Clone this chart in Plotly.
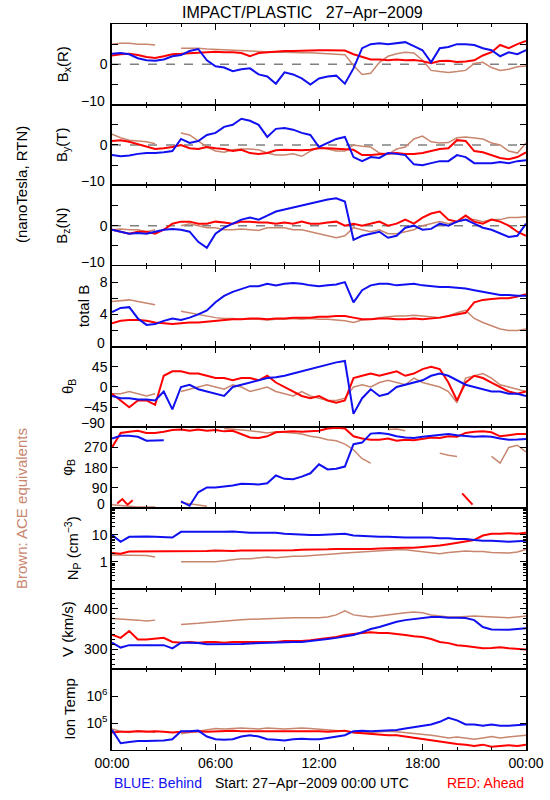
import plotly.graph_objects as go
from plotly.subplots import make_subplots
from datetime import datetime, timedelta

# ---------------- data (30-min grid) ----------------
HOURS = [0.0, 0.5, 1.0, 1.5, 2.0, 2.5, 3.0, 3.5, 4.0, 4.5, 5.0, 5.5, 6.0, 6.5, 7.0, 7.5,
         8.0, 8.5, 9.0, 9.5, 10.0, 10.5, 11.0, 11.5, 12.0, 12.5, 13.0, 13.5, 14.0, 14.5,
         15.0, 15.5, 16.0, 16.5, 17.0, 17.5, 18.0, 18.5, 19.0, 19.5, 20.0, 20.5, 21.0,
         21.5, 22.0, 22.5, 23.0, 23.5, 24.0]
MAJOR_TICK_HOURS = [0, 6, 12, 18, 24]
MAJOR_TICK_TEXT = ["00:00", "06:00", "12:00", "18:00", "00:00"]
MINOR_TICK_HOURS = [2, 4, 8, 10, 14, 16, 20, 22]

BX_BEHIND = [2.6, 2.8, 2.5, 1.5, 1.0, 0.9, 1.2, 2.0, 2.3, 3.3, 3.8, 1.0, -0.5, -0.8, -1.7, -1.2,
             -1.0, -2.5, -3.0, -4.8, -2.0, -2.5, -3.5, -5.0, -3.5, -3.0, -2.8, -4.8, -1.0, 4.0,
             5.0, 5.2, 5.0, 5.3, 5.5, 4.5, 3.5, 0.5, 4.0, 4.3, 5.0, 5.0, 4.8, 4.0, 3.5, 2.0,
             3.0, 2.5, 3.5]
BX_AHEAD = [2.2, 2.5, 2.6, 2.3, 1.8, 1.6, 2.0, 2.5, 2.6, 2.8, 2.9, 3.0, 3.1, 3.0, 3.0, 2.8,
            2.0, 2.8, 3.0, 3.2, 3.3, 3.3, 3.4, 3.4, 3.5, 3.5, 3.4, 3.4, 2.5, 1.8, 1.2, 1.2,
            1.0, 1.2, 1.0, 1.1, 0.8, 0.3, 0.8, 0.9, 0.6, 0.7, 1.0, 2.2, 3.0, 4.8, 4.0, 5.0, 5.8]
BX_ACE = [5.0, 5.2, 5.2, 5.0, 5.0, 4.8, None, None, 4.0, 4.0, 4.0, 3.8, 3.7, 3.6, 3.5, 3.4,
          3.2, 3.1, 3.0, 3.0, 3.0, 2.9, 2.9, 2.9, 2.8, 2.7, 2.6, 2.4, -0.3, -2.5, -2.2, 0.5,
          2.0, 2.6, 3.0, 2.8, 1.0, -1.5, -1.8, -2.0, -1.8, -1.5, 0.2, 0.5, -0.8, -1.5, -1.2,
          -0.6, -0.4]

BY_BEHIND = [-2.5, -2.8, -2.6, -2.2, -2.0, -2.0, -1.8, -1.5, 1.5, 0.5, 1.0, 2.5, 3.0, 4.5, 5.0,
             6.5, 6.0, 5.0, 2.0, 4.0, 4.2, 3.8, 3.0, 2.5, -0.5, 0.5, 1.5, 2.0, -3.0, -4.0, -3.0,
             -3.2, -2.0, -2.2, -2.5, -4.8, -5.0, -4.5, -4.0, -4.0, -2.5, -3.0, -4.5, -4.5, -4.5,
             -4.2, -4.5, -4.0, -3.8]
BY_AHEAD = [1.0, 1.2, 0.8, 0.2, -0.5, -1.0, -0.8, -0.5, 0.0, -0.8, -1.0, -0.5, -0.8, -1.0, -1.5,
            -1.2, -2.0, -2.2, -2.0, -1.3, -1.2, -1.3, -1.3, -1.2, -0.8, -0.8, -0.9, -1.0, -1.2,
            -2.5, -2.5, -2.3, -2.2, -2.0, -2.2, -2.2, -2.0, -1.5, -1.0, -0.8, 1.2, 1.0, -1.5,
            -1.8, -2.5, -3.2, -3.5, -3.0, -1.8]
BY_ACE = [2.7, 1.8, 1.2, 1.0, 0.8, 0.3, None, None, 3.0, 2.5, 1.0, -0.5, -1.5, -1.8, -1.2, -1.0,
          -1.0, -1.2, -2.0, -2.5, -2.5, -2.2, -2.8, -1.5, -0.5, -1.0, -1.5, -1.5, 0.0, -0.3,
          -0.5, -2.0, -2.3, -1.0, -0.5, 1.5, 2.2, 0.8, 0.5, 0.6, 1.8, 2.0, 1.8, 1.5, 0.5, 0.0,
          -1.5, -2.0, 0.5]

BZ_BEHIND = [-1.0, -1.5, -2.0, -1.8, -2.0, -1.5, -1.0, -0.8, -1.0, -1.5, -4.0, -5.5, -2.0, -0.5,
             0.5, 1.5, 2.0, 1.5, 2.5, 3.5, 4.0, 4.5, 5.0, 5.5, 6.0, 6.5, 6.8, 6.0, -3.5, -2.5,
             -2.0, -1.5, -3.0, -2.5, -0.5, 0.0, -1.0, -0.8, 0.5, 0.0, 1.0, 1.5, 0.5, -0.5,
             -1.0, -2.0, -2.8, -2.5, 0.5]
BZ_AHEAD = [-1.0, -1.5, -2.0, -1.5, -1.5, -2.0, -1.0, 0.5, 1.0, 1.0, 0.5, 0.5, 1.0, 0.8, 0.5,
            1.0, 1.0, 0.8, 0.8, 0.5, 0.8, 0.5, 1.0, 0.5, 0.5, 0.8, 1.0, 0.0, 0.5, 0.0, 0.5,
            1.0, 0.0, 0.5, 1.5, 0.5, 2.0, 3.0, 3.5, 1.5, 1.0, 2.5, 1.0, 0.5, 1.5, 1.0, 0.0,
            -1.5, -2.5]
BZ_ACE = [-1.0, -0.8, -1.0, -1.0, -1.5, -1.0, None, None, 0.0, 0.5, 0.0, -0.5, -0.5, -1.0, -1.0,
          -0.8, -1.0, -1.2, -0.5, -0.5, -0.5, -1.0, -1.0, -1.5, -2.0, -2.5, -3.0, -2.5, -0.5,
          -1.0, -1.5, -1.0, -2.0, -2.0, -1.5, -1.0, 0.0, 0.5, 1.0, 0.5, 1.0, 1.5, 1.5, 1.0,
          1.5, 1.5, 2.0, 2.0, 2.2]

BT_BEHIND = [4.3, 4.8, 4.9, 3.5, 2.7, 2.8, 3.2, 3.5, 3.3, 3.6, 4.0, 4.5, 5.5, 6.3, 6.8, 7.2,
             7.5, 7.5, 7.8, 7.6, 7.8, 7.9, 7.8, 7.6, 7.5, 7.6, 7.7, 8.0, 5.5, 7.0, 7.6, 7.8,
             7.8, 7.6, 7.7, 7.8, 7.6, 7.5, 7.4, 7.4, 7.3, 7.2, 7.0, 6.8, 6.6, 6.4, 6.4, 6.3, 6.3]
BT_AHEAD = [2.9, 3.2, 3.3, 3.3, 3.2, 3.0, 2.9, 2.8, 2.9, 3.0, 3.0, 3.1, 3.2, 3.3, 3.4, 3.4,
            3.5, 3.5, 3.4, 3.5, 3.5, 3.6, 3.6, 3.6, 3.7, 3.7, 3.8, 3.8, 3.6, 3.4, 3.4, 3.5,
            3.5, 3.4, 3.4, 3.5, 3.4, 3.5, 3.6, 3.8, 4.0, 4.2, 5.5, 5.8, 5.9, 6.0, 6.0, 6.2, 6.5]
BT_ACE = [5.6, 5.7, 5.8, 5.6, 5.4, 5.2, None, None, 4.4, 4.2, 4.0, 3.8, 3.6, 3.5, 3.5, 3.4,
          3.4, 3.4, 3.3, 3.4, 3.4, 3.5, 3.4, 3.5, 3.4, 3.4, 3.3, 3.2, 3.0, 3.3, 3.4, 3.6,
          3.7, 3.8, 3.8, 3.9, 3.8, 3.7, 3.6, 3.8, 4.2, 4.5, 3.5, 3.0, 2.6, 2.2, 2.0, 2.0, 2.2]

TH_BEHIND = [-20, -25, -25, -28, -28, -30, -10, -50, 0, 5, -5, -10, -15, -20, 0, 5, 10, 15,
             20, 22, 25, 30, 35, 40, 45, 50, 55, 58, -60, -25, -5, -20, -15, 0, 5, 10, 15, 25,
             30, 25, 15, 5, 0, -5, -10, -10, -15, -15, -20]
TH_AHEAD = [-15, -30, -45, -30, -30, -40, 25, 35, 35, 30, 30, 25, 20, 20, 15, 20, 20, 15, 25,
            10, 0, -10, -20, -25, -20, -30, -35, -30, 20, 25, 30, 25, 30, 35, 25, 30, 40, 45,
            40, 10, -30, 10, 25, 20, 10, 0, -10, -15, -10]
TH_ACE = [-15, -15, -10, -15, -20, -15, None, None, -10, -5, 0, 5, 0, -5, 5, 0, -10, -5, 0,
          -10, -15, -20, -10, -20, -25, -30, -30, -25, 0, 5, 0, 10, 15, 10, 5, 20, 10, 5, 0,
          -10, -35, 20, 25, 30, 20, 5, 0, -5, -10]

PH_BEHIND = [310, 322, 322, 318, 300, 300, 302, None, 30, 10, 70, 92, 92, 95, 100, 108, 105,
             105, 110, 145, 130, 128, 140, 155, 195, 172, 175, 185, 285, 292, 332, 335, 330,
             320, 315, 312, 318, 322, 328, 330, 325, 320, 318, 320, 318, 310, 305, 306, 308]
PH_AHEAD = [270, 335, 340, 345, 335, 335, 340, 348, 350, 345, 350, 345, 348, 342, 345, 330,
            315, 312, 320, 338, 340, 342, 340, 342, 345, 355, 358, 355, 320, 310, 305, 305,
            310, 300, 305, 302, 310, 315, 312, 320, 318, 335, 340, 342, 338, 320, 325, 330, 330]
PH_ACE = [15, 10, 8, 5, 5, 5, None, None, 25, 20, 15, 8, None, 355, 352, 350, 345, 340, 335,
          340, 338, 335, 330, 320, 315, 305, 300, 285, 260, 220, 200, None, 350, 352, 345,
          None, 15, None, 245, 235, 230, None, 55, None, 230, 200, 270, 280, 250]
PH_AHEAD_WRAP_HOURS = [0.3, 0.6, 0.9, 1.2, None, 20.3, 20.6, 20.9]
PH_AHEAD_WRAP = [20, 40, 15, 35, None, 65, 40, 15]

NP_BEHIND = [10, 5.5, 8.5, 8.7, 8.8, 8.5, 8.5, 8.0, 13, 13, 13, 13, 12.5, 13, 13.5, 12.5, 12,
             12, 12, 12, 11, 10.5, 10, 10, 10, 10.5, 11, 11, 9.5, 9, 9, 8.5, 8.5, 8, 8, 8, 8,
             8, 7.5, 7.5, 7, 7, 6.5, 6, 6, 5.8, 5.5, 5.8, 6]
NP_AHEAD = [2.1, 2.0, 2.4, 2.4, 2.4, 2.5, 2.4, 2.4, 2.4, 2.5, 2.5, 2.5, 2.6, 2.5, 2.5, 2.6,
            2.6, 2.6, 2.6, 2.7, 2.7, 2.7, 2.8, 2.8, 2.8, 2.9, 3.0, 3.0, 2.9, 3.0, 3.0, 3.1,
            3.2, 3.2, 3.3, 3.3, 3.5, 3.8, 4.0, 4.5, 5.0, 5.5, 6.5, 9.5, 11, 11, 11.5, 11, 12]
NP_ACE = [1.8, 1.8, 1.7, 1.8, 1.7, 1.5, None, None, 1.0, 1.0, 1.0, 1.0, 1.0, 1.1, 1.2, 1.3,
          1.3, 1.4, 1.5, 1.4, 1.5, 1.6, 1.6, 1.7, 1.8, 2.0, 2.0, 2.1, 2.2, 2.4, 2.5, 2.5,
          2.6, 2.8, 2.8, 2.6, 2.4, 2.2, 2.0, 2.2, 2.4, 2.5, 2.4, 2.4, 2.2, 2.2, 2.1, 2.3, 2.9]

V_BEHIND = [316, 304, 310, 310, 310, 310, 310, 302, 316, 316, 315, 312, 312, 312, 313, 313,
            314, 315, 315, 316, 318, 318, 318, 320, 322, 325, 328, 332, 335, 342, 350, 355,
            362, 368, 372, 375, 378, 380, 380, 378, 378, 377, 372, 355, 349, 348, 348, 350, 352]
V_AHEAD = [336, 328, 345, 324, 324, 326, 328, 318, 316, 318, 316, 318, 318, 316, 318, 318,
           318, 318, 318, 318, 320, 320, 320, 322, 325, 328, 330, 335, 338, 340, 342, 340,
           340, 338, 335, 332, 330, 325, 318, 315, 310, 308, 305, 302, 303, 305, 302, 300, 299]
V_ACE = [376, 375, 374, 372, 370, 372, None, None, 361, 362, 364, 366, 368, 370, 372, 373,
         374, 375, 376, 376, 377, 378, 378, 378, 378, 380, 385, 395, 385, 382, 380, 382,
         385, 388, 390, 392, 390, 385, 382, 380, 380, 381, 382, 381, 380, 379, 378, 380, 382]

T_BEHIND = [56000, 17800, 20000, 21400, 21400, 21400, 22400, 25100, 50100, 50100, 52500,
            31600, 25100, 24000, 25100, 31600, 35500, 31600, 25100, 24000, 22400, 25100,
            26300, 25100, 25100, 28200, 31600, 35500, 50100, 52500, 50100, 52500, 56000,
            56000, 63100, 70800, 79400, 89100, 112000, 158000, 126000, 89100, 89100, 79400,
            89100, 79400, 79400, 83200, 89100]
T_AHEAD = [44700, 47900, 47900, 50100, 47900, 50100, 47900, 44700, 47900, 50100, 50100,
           47900, 50100, 50100, 52500, 50100, 50100, 52500, 50100, 52500, 50100, 52500,
           52500, 50100, 50100, 47900, 50100, 52500, 44700, 41700, 39800, 38000, 35500,
           35500, 31600, 28200, 25100, 22400, 20000, 17800, 16600, 15800, 14100, 15800,
           13200, 14100, 15100, 14100, 15800]
T_ACE = [60300, 50100, 44700, 52500, 50100, 44700, None, None, 39800, 44700, 52500, 56000,
         63100, 60300, 63100, 66100, 63100, 60300, 66100, 63100, 60300, 63100, 66100, 63100,
         60300, 56000, 52500, 50100, 44700, 41700, 44700, 47900, 50100, 47900, 44700, 39800,
         38000, 35500, 31600, 28200, 30200, 28200, 25100, 28200, 31600, 28200, 30200, 31600,
         35500]

# ---------------- figure ----------------
BASE = datetime(2009, 4, 27)


def to_time(hs):
    return [BASE + timedelta(hours=h) if h is not None else None for h in hs]


TIME = to_time(HOURS)
BLUE = "#1010F0"
RED = "#FF0000"
BROWN = "#C8866E"
FONT = "Liberation Sans, Arial, sans-serif"

W, H = 550, 800
L, R, T, B = 112, 24, 24, 50
PW, PH = W - L - R, H - T - B


def px(xp):
    return (xp - L) / PW


def py(yp):
    return (H - B - yp) / PH


panels = [
    (BX_ACE, BX_AHEAD, BX_BEHIND),
    (BY_ACE, BY_AHEAD, BY_BEHIND),
    (BZ_ACE, BZ_AHEAD, BZ_BEHIND),
    (BT_ACE, BT_AHEAD, BT_BEHIND),
    (TH_ACE, TH_AHEAD, TH_BEHIND),
    (PH_ACE, PH_AHEAD, PH_BEHIND),
    (NP_ACE, NP_AHEAD, NP_BEHIND),
    (V_ACE, V_AHEAD, V_BEHIND),
    (T_ACE, T_AHEAD, T_BEHIND),
]

fig = make_subplots(rows=9, cols=1, shared_xaxes=False, vertical_spacing=0)

for i, (ace, ahead, behind) in enumerate(panels, start=1):
    fig.add_trace(go.Scatter(x=TIME, y=ace, mode="lines", connectgaps=False,
                             line=dict(color=BROWN, width=1.5), showlegend=False), row=i, col=1)
    fig.add_trace(go.Scatter(x=TIME, y=ahead, mode="lines", connectgaps=False,
                             line=dict(color=RED, width=2), showlegend=False), row=i, col=1)
    if i == 6:
        fig.add_trace(go.Scatter(x=to_time(PH_AHEAD_WRAP_HOURS), y=PH_AHEAD_WRAP, mode="lines",
                                 connectgaps=False, line=dict(color=RED, width=2),
                                 showlegend=False), row=i, col=1)
    fig.add_trace(go.Scatter(x=TIME, y=behind, mode="lines", connectgaps=False,
                             line=dict(color=BLUE, width=2), showlegend=False), row=i, col=1)

# x axes (independent, same range; labels only on the bottom panel)
for i in range(1, 10):
    fig.update_xaxes(
        row=i, col=1,
        type="date", range=[BASE, BASE + timedelta(hours=24)],
        tickmode="array", tickvals=to_time(MAJOR_TICK_HOURS), ticktext=MAJOR_TICK_TEXT,
        showticklabels=(i == 9),
        ticks="inside", ticklen=6, tickwidth=1, tickcolor="black",
        minor=dict(ticks="inside", ticklen=3, tickmode="array",
                   tickvals=to_time(MINOR_TICK_HOURS), tickcolor="black", showgrid=False),
        showline=True, linecolor="black", linewidth=1, mirror="ticks",
        showgrid=False, zeroline=False,
        tickfont=dict(family=FONT, size=14, color="black"),
    )

# y axes
yconf = [
    dict(range=[-10, 10], tickvals=[0], ticktext=["0"], minor_tickvals=[-5, 5]),
    dict(range=[-10, 10], tickvals=[0], ticktext=["0"], minor_tickvals=[-5, 5]),
    dict(range=[-10, 10], tickvals=[0], ticktext=["0"], minor_tickvals=[-5, 5]),
    dict(range=[0, 10], tickvals=[4, 8], ticktext=["4", "8"], minor_tickvals=[2, 6]),
    dict(range=[-90, 90], tickvals=[-45, 0, 45], ticktext=["\u221245", "0", "45"]),
    dict(range=[0, 360], tickvals=[90, 180, 270], ticktext=["90", "180", "270"]),
    dict(type="log", range=[-1, 2], tickvals=[1, 10], ticktext=["1", "10"],
         minor_tickvals=[0.2, 0.3, 0.4, 0.5, 0.6, 0.7, 0.8, 0.9, 2, 3, 4, 5, 6, 7, 8, 9,
                         20, 30, 40, 50, 60, 70, 80, 90], minor_len=3),
    dict(range=[250, 450], tickvals=[300, 400], ticktext=["300", "400"],
         minor_tickvals=[262.5, 275, 287.5, 312.5, 325, 337.5, 350, 362.5, 375, 387.5,
                         412.5, 425, 437.5], minor_len=3),
    dict(type="log", range=[4, 7], tickvals=[1e5, 1e6],
         ticktext=["10<sup>5</sup>", "10<sup>6</sup>"]),
]
for i, c in enumerate(yconf, start=1):
    c = dict(c)
    mvals = c.pop("minor_tickvals", None)
    mlen = c.pop("minor_len", 6)
    extra = {}
    if mvals is not None:
        extra["minor"] = dict(ticks="inside", ticklen=mlen, tickcolor="black",
                              tickmode="array", tickvals=mvals, showgrid=False)
    fig.update_yaxes(row=i, col=1, tickmode="array", ticks="inside", ticklen=6,
                     tickcolor="black", showline=True, linecolor="black", linewidth=1.5,
                     mirror="ticks", showgrid=False, zeroline=False,
                     tickfont=dict(family=FONT, size=14, color="black"), **c, **extra)

# dashed zero lines in the field component panels
for i in (1, 2, 3):
    yr = "y" if i == 1 else f"y{i}"
    fig.add_shape(type="line", xref="x domain" if i == 1 else f"x{i} domain", yref=yr,
                  x0=0, x1=1, y0=0, y1=0, layer="below",
                  line=dict(color="#808080", width=1.5, dash="dash"))

ann = []
# edge tick labels (drawn slightly raised like the original)
edge = [(1, "\u221210"), (2, "\u221210"), (3, "\u221210"), (4, "0"), (5, "\u221290"), (6, "0")]
for i, txt in edge:
    yr = "y domain" if i == 1 else f"y{i} domain"
    ann.append(dict(text=txt, xref="paper", x=0, xanchor="right", xshift=-5,
                    yref=yr, y=0, yanchor="middle", yshift=4, showarrow=False,
                    font=dict(family=FONT, size=14, color="black")))

# y titles
titles = [
    ("B<sub>x</sub>(R)", 63), ("B<sub>y</sub>(T)", 63), ("B<sub>z</sub>(N)", 63),
    ("total B", 83), ("\u03b8<sub>B</sub>", 68), ("\u03c6<sub>B</sub>", 68),
    ("N<sub>P</sub> (cm<sup>\u22123</sup>)", 72), ("V (km/s)", 67), ("Ion Temp", 70),
]
for i, (txt, xp) in enumerate(titles):
    yc = T + PH / 9 * (i + 0.5)
    ann.append(dict(text=txt, xref="paper", yref="paper", x=px(xp), y=py(yc),
                    xanchor="center", yanchor="middle", textangle=-90, showarrow=False,
                    font=dict(family=FONT, size=15, color="black")))

ann += [
    dict(text="IMPACT/PLASTIC   27\u2212Apr\u22122009", xref="paper", yref="paper",
         x=px(302), y=py(12), xanchor="center", yanchor="middle", showarrow=False,
         font=dict(family=FONT, size=16, color="black")),
    dict(text="(nanoTesla, RTN)", xref="paper", yref="paper", x=px(22), y=py(185),
         xanchor="center", yanchor="middle", textangle=-90, showarrow=False,
         font=dict(family=FONT, size=15, color="black")),
    dict(text="Brown: ACE equivalents", xref="paper", yref="paper", x=px(21), y=py(509),
         xanchor="center", yanchor="middle", textangle=-90, showarrow=False,
         font=dict(family=FONT, size=15, color=BROWN)),
    dict(text="BLUE: Behind", xref="paper", yref="paper", x=px(112), y=py(783),
         xanchor="left", yanchor="middle", showarrow=False,
         font=dict(family=FONT, size=14, color=BLUE)),
    dict(text="Start: 27\u2212Apr\u22122009 00:00 UTC", xref="paper", yref="paper",
         x=px(213), y=py(783), xanchor="left", yanchor="middle", showarrow=False,
         font=dict(family=FONT, size=14, color="black")),
    dict(text="RED: Ahead", xref="paper", yref="paper", x=px(526), y=py(783),
         xanchor="right", yanchor="middle", showarrow=False,
         font=dict(family=FONT, size=14, color=RED)),
]

fig.update_layout(
    width=W, height=H, margin=dict(l=L, r=R, t=T, b=B, autoexpand=False),
    paper_bgcolor="white", plot_bgcolor="white", showlegend=False,
    annotations=ann, font=dict(family=FONT, size=14, color="black"),
)

fig.write_html("out.html", config={"displayModeBar": False},
               post_script="document.body.style.margin='0';document.body.style.overflow='hidden';")
